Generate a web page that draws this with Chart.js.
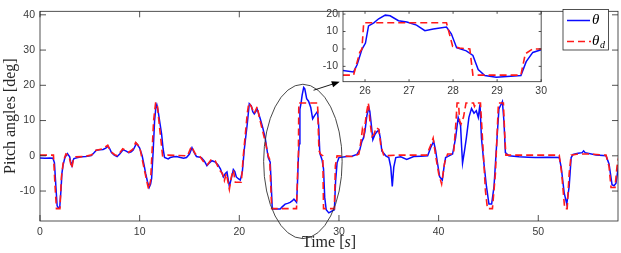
<!DOCTYPE html>
<html>
<head>
<meta charset="utf-8">
<script src="https://cdn.jsdelivr.net/npm/chart.js@4.4.0/dist/chart.umd.min.js"></script>
<style>
  html, body { margin: 0; padding: 0; background: #fff; }
  #wrap { position: relative; width: 621px; height: 253px; }
  #main { position: absolute; left: 0; top: 0; }
  #zoom { position: absolute; left: 318px; top: 0; }
</style>
</head>
<body>
<div id="wrap">
  <canvas id="main" width="621" height="253"></canvas>
  <canvas id="zoom" width="232" height="100"></canvas>
</div>
<script>
// measured pitch angle (theta)
const thetaTime = [0, 0.5, 1.0, 1.3, 1.45, 1.6, 1.72, 1.85, 1.98, 2.1, 2.2, 2.31, 2.5, 2.75, 2.98, 3.1, 3.2, 3.3, 3.4, 3.8,
  4.15, 4.6, 5.15, 5.4, 5.66, 6.0, 6.33, 6.6, 6.83, 7.0, 7.17, 7.45, 7.74, 8.0, 8.34, 8.6, 8.91, 9.15, 9.35, 9.68,
  9.85, 10.0, 10.25, 10.45, 10.6, 10.78, 10.95, 11.1, 11.2, 11.35, 11.5, 11.62, 11.72, 11.8, 11.9, 12.05, 12.2, 12.35, 12.5, 12.86,
  13.07, 13.4, 13.7, 14.1, 14.4, 14.7, 15.0, 15.25, 15.45, 15.7, 16.2, 16.5, 16.75, 17.0, 17.25, 17.6, 17.85, 18.1, 18.4, 18.6,
  18.76, 18.9, 19.0, 19.2, 19.4, 19.55, 19.7, 19.9, 20.1, 20.3, 20.5, 20.8, 21.0, 21.2, 21.35, 21.5, 21.8, 22.1, 22.35, 22.6,
  22.9, 23.1, 23.2, 23.3, 23.4, 24.1, 24.3, 24.6, 24.85, 25.1, 25.3, 25.48, 25.74, 25.82, 25.93, 26.01, 26.08, 26.2, 26.31, 26.46,
  26.57, 26.76, 26.95, 27.17, 27.36, 27.55, 27.85, 27.96, 28.08, 28.3, 28.45, 28.57, 28.72, 28.98, 29.54, 29.66, 29.81, 30.0, 30.8, 31.3,
  31.8, 32.1, 32.3, 32.45, 32.6, 32.8, 33.0, 33.1, 33.25, 33.4, 33.6, 33.8, 34.0, 34.15, 34.3, 34.7, 35.0, 35.2, 35.35, 35.5,
  35.7, 36.2, 36.8, 37.5, 38.2, 38.9, 39.2, 39.5, 39.7, 39.9, 40.1, 40.37, 40.55, 40.7, 41.04, 41.4, 41.7, 41.96, 42.2, 42.3,
  42.4, 42.6, 42.78, 43.04, 43.3, 43.55, 43.78, 43.98, 44.15, 44.3, 44.55, 44.8, 45.05, 45.32, 45.56, 45.8, 46.05, 46.4, 46.56, 46.7,
  47.05, 48.07, 49.0, 49.7, 51.0, 52.1, 52.3, 52.6, 52.86, 53.1, 53.3, 53.5, 54.0, 54.4, 54.55, 54.7, 55.8, 56.8, 57.1, 57.4,
  57.6, 57.8, 58.1];
const theta = [-0.6, -0.7, -0.6, -0.7, -2, -9, -14.2, -14.8, -14.6, -10, -5, -2.7, -0.5, 0.6, -0.3, -2, -2.8, -1.5, -0.8, -0.5,
  -0.3, -0.2, 0.1, 0.8, 1.6, 1.7, 1.8, 2.2, 2.7, 2.0, 0.9, 0.2, -0.2, 0.5, 1.7, 1.4, 0.9, 1.1, 1.6, 3.5,
  2.8, 2.2, 0, -2.7, -5, -7.3, -9, -8, -6.4, 1, 10, 13.5, 14.5, 13.5, 11.8, 9, 6.2, 2, -0.5, -0.9,
  -0.5, -0.3, -0.2, -0.5, -0.7, -0.5, 0.5, 2.3, 1, -0.2, -0.5, -1.5, -2.8, -2, -1.4, -1.8, -2.5, -3.7, -6, -5,
  -4.6, -7, -8.7, -6.4, -3.9, -4.5, -6, -6.5, -6.9, -4.6, 1.8, 9.1, 14.8, 14.2, 12.5, 11.9, 13.2, 10.5, 8, 5,
  -0.5, -1.8, -8, -14.6, -15.1, -15.1, -14.5, -13.7, -13.5, -13.2, -12.8, -12.3, -13.2, -9.1, -0.2, 3.4, 13.2, 15, 17.3, 19.4,
  19, 16.2, 15.5, 13.7, 10.5, 11.4, 12.6, 8.7, 0.7, -1.1, -3.7, -11.8, -15.3, -16.2, -15.3, -7.3, -2, -0.5, -0.2, -0.1,
  0.4, 1.8, 4.1, 5, 6.8, 11.4, 13.7, 12.5, 8.7, 4.6, 6, 6.8, 7.3, 5, 1.4, 0, -0.5, -3.2, -8.7, -3.2,
  -0.5, -0.3, -1, -0.2, -0.1, 0, 2.3, 4.1, 1.5, -2.3, -5.9, -6.9, -3, -0.5, 0, 0.5, 5, 10.9, 8.6, 3,
  -2.1, 1.5, 5, 10.9, 13.4, 12.1, 12.8, 10.9, 14.6, 5, -2.3, -8.7, -13.7, -13.7, -8.7, 2.3, 13.3, 15.4, 9.6, 0.9,
  0, -0.3, -0.4, -0.5, -0.4, -0.5, -3.2, -10.5, -13.7, -8.7, -0.5, 0.4, 0.7, 0.9, 1.4, 0.9, 0.2, 0, -2.3, -8.2,
  -8.5, -7.8, -1.8];

// desired pitch angle (theta_d)
const thetaDTime = [0, 1.35, 1.5, 1.65, 2.0, 2.15, 2.35, 2.6, 2.9, 3.1, 3.2, 3.35, 3.6, 4.5, 5.2, 5.5, 6.3, 6.8, 7.1, 7.5,
  7.8, 8.3, 8.9, 9.3, 9.6, 10.0, 10.4, 10.7, 10.9, 11.1, 11.4, 11.6, 11.75, 12.0, 12.3, 12.8, 14.8, 15.2, 15.6, 16.0,
  16.5, 16.8, 17.2, 17.6, 18.0, 18.3, 18.5, 18.7, 19.0, 19.2, 19.4, 19.6, 20.2, 20.4, 20.8, 20.95, 21.2, 21.5, 21.8, 22.0,
  22.6, 22.9, 23.05, 23.25, 25.74, 25.88, 25.93, 25.97, 27.85, 27.99, 28.15, 28.38, 28.45, 29.54, 29.64, 29.81, 31.5, 32.0, 32.2, 32.35,
  32.5, 32.75, 32.95, 33.1, 33.3, 33.5, 33.75, 34.0, 34.2, 34.5, 36.0, 38.8, 39.2, 39.45, 39.7, 40.0, 40.3, 40.6, 40.9, 41.5,
  41.75, 41.85, 42.0, 42.1, 42.25, 42.5, 42.75, 43.5, 43.6, 43.8, 44.2, 44.4, 44.7, 44.9, 45.4, 45.7, 46.0, 46.5, 46.65, 46.75,
  52.1, 52.35, 52.65, 52.9, 53.1, 53.3, 54.0, 55.0, 56.8, 57.1, 57.3, 57.7, 57.9, 58.1];
const thetaD = [0.2, 0.2, -8, -15, -15, -6, -1.5, 0.5, 0, -2.5, -3.5, -1, -0.3, -0.2, 0.3, 1.5, 2, 3, 1.2, 0.3,
  0, 2, 1, 1.8, 3.8, 2.5, -3, -7, -9.5, -7, 10, 15, 15, 8, 0, 0.2, 0, 2.7, 0.5, 0,
  -2, -2.5, -1, -1.5, -4, -5, -7, -5, -9.5, -6, -4, -7.5, -7.5, 0, 12, 15, 14, 12, 14, 11,
  4, 0, -1, -15, -15, -2, 0, 15, 15, 1.5, 0.5, 0, -15, -15, -2.8, 0, -0.2, 0.5, 4, 7.5,
  6, 12, 15, 10, 5.5, 6, 8, 7.5, 3, 0, 0.2, 0.2, 3, 5, 0, -5, -8, -2, 0.5, 0.5,
  10, 15, 15, 10, 9, 11, 15, 15, 14, 15, 15, 5, -10, -15, -15, -5, 15, 15, 5, 0.2,
  0.2, -5, -15, -15, -5, 0.2, 0.5, 0.5, 0.2, -3, -9, -9, -3, 0];

const xTicks = [0, 10, 20, 30, 40, 50];
const yTicks = [-10, 0, 10, 20, 30, 40];
const zoomXTicks = [26, 27, 28, 29, 30];
const zoomYTicks = [-10, 0, 10, 20];

// ellipse around the zoomed region and arrow to the inset (data units)
const ellipseCenter = { x: 26.38, y: -1.6 };
const ellipseRadius = { x: 3.94, y: 21.9 };
const arrowFrom = { x: 27.45, y: 18.6 };
const arrowTo = { x: 30.08, y: 21.0 };

const axisColor = '#262626';
const tickFont = { family: 'Liberation Sans, Arial, sans-serif', size: 10.5 };

function series() {
  return [
    {
      label: 'theta_d',
      data: thetaDTime.map((t, i) => ({ x: t, y: thetaD[i] })),
      borderColor: '#ff1a1a',
      borderWidth: 1.6,
      borderDash: [7, 4],
      pointRadius: 0,
      order: 1,
      clip: 0
    },
    {
      label: 'theta',
      data: thetaTime.map((t, i) => ({ x: t, y: theta[i] })),
      borderColor: '#0a0aff',
      borderWidth: 1.5,
      pointRadius: 0,
      order: 2,
      clip: 0
    }
  ];
}

// MATLAB style box with inward ticks on all four sides
const axesBox = {
  id: 'axesBox',
  beforeDraw(chart, args, opts) {
    if (!opts.fill) return;
    const a = chart.chartArea;
    chart.ctx.save();
    chart.ctx.fillStyle = '#fff';
    chart.ctx.fillRect(a.left, a.top, a.width, a.height);
    chart.ctx.restore();
  },
  afterDatasetsDraw(chart, args, opts) {
    const { ctx, chartArea: a, scales: { x, y } } = chart;
    const len = opts.tickLen;
    ctx.save();
    ctx.strokeStyle = axisColor;
    ctx.lineWidth = 0.8;
    ctx.beginPath();
    x.ticks.forEach(t => {
      const px = x.getPixelForValue(t.value);
      ctx.moveTo(px, a.bottom); ctx.lineTo(px, a.bottom - len);
      ctx.moveTo(px, a.top); ctx.lineTo(px, a.top + len);
    });
    y.ticks.forEach(t => {
      const py = y.getPixelForValue(t.value);
      ctx.moveTo(a.left, py); ctx.lineTo(a.left + len, py);
      ctx.moveTo(a.right, py); ctx.lineTo(a.right - len, py);
    });
    ctx.stroke();
    ctx.strokeRect(a.left, a.top, a.width, a.height);
    ctx.restore();
  }
};

const extras = {
  id: 'extras',
  afterDatasetsDraw(chart) {
    const { ctx, scales: { x, y } } = chart;
    ctx.save();
    ctx.strokeStyle = '#333';
    ctx.lineWidth = 0.9;
    const cx = x.getPixelForValue(ellipseCenter.x);
    const cy = y.getPixelForValue(ellipseCenter.y);
    const rx = x.getPixelForValue(ellipseCenter.x + ellipseRadius.x) - cx;
    const ry = cy - y.getPixelForValue(ellipseCenter.y + ellipseRadius.y);
    ctx.beginPath();
    ctx.ellipse(cx, cy, rx, ry, 0, 0, Math.PI * 2);
    ctx.stroke();

    const x0 = x.getPixelForValue(arrowFrom.x), y0 = y.getPixelForValue(arrowFrom.y);
    const x1 = x.getPixelForValue(arrowTo.x), y1 = y.getPixelForValue(arrowTo.y);
    const ang = Math.atan2(y1 - y0, x1 - x0);
    ctx.strokeStyle = '#000';
    ctx.beginPath();
    ctx.moveTo(x0, y0);
    ctx.lineTo(x1 - 6 * Math.cos(ang), y1 - 6 * Math.sin(ang));
    ctx.stroke();
    ctx.fillStyle = '#000';
    ctx.beginPath();
    ctx.moveTo(x1, y1);
    ctx.lineTo(x1 - 8 * Math.cos(ang) + 3.2 * Math.sin(ang), y1 - 8 * Math.sin(ang) - 3.2 * Math.cos(ang));
    ctx.lineTo(x1 - 8 * Math.cos(ang) - 3.2 * Math.sin(ang), y1 - 8 * Math.sin(ang) + 3.2 * Math.cos(ang));
    ctx.closePath();
    ctx.fill();
    ctx.restore();
  },
  afterDraw(chart) {
    const { ctx, chartArea: a } = chart;
    ctx.save();
    ctx.fillStyle = axisColor;
    // y axis title
    ctx.font = '16px "Liberation Serif", serif';
    ctx.textAlign = 'center';
    ctx.textBaseline = 'alphabetic';
    ctx.save();
    ctx.translate(15, (a.top + a.bottom) / 2);
    ctx.rotate(-Math.PI / 2);
    ctx.fillText('Pitch angles [deg]', 0, 0);
    ctx.restore();

    // x axis title, with italic s
    const parts = [['Time [', '16px "Liberation Serif", serif'], ['s', 'italic 16px "Liberation Serif", serif'], [']', '16px "Liberation Serif", serif']];
    let total = 0;
    parts.forEach(p => { ctx.font = p[1]; total += ctx.measureText(p[0]).width; });
    let px = (a.left + a.right) / 2 - total / 2;
    ctx.textAlign = 'left';
    parts.forEach(p => { ctx.font = p[1]; ctx.fillText(p[0], px, 247); px += ctx.measureText(p[0]).width; });

    // legend
    const lx = 563, ly = 9.5, lw = 45.5, lh = 40.5;
    ctx.fillStyle = '#fff';
    ctx.fillRect(lx, ly, lw, lh);
    ctx.strokeStyle = axisColor;
    ctx.lineWidth = 0.8;
    ctx.strokeRect(lx, ly, lw, lh);
    ctx.lineWidth = 1.5;
    ctx.strokeStyle = '#0a0aff';
    ctx.beginPath(); ctx.moveTo(567, 20.5); ctx.lineTo(590, 20.5); ctx.stroke();
    ctx.strokeStyle = '#ff1a1a';
    ctx.setLineDash([7, 4]);
    ctx.beginPath(); ctx.moveTo(567, 41.5); ctx.lineTo(591, 41.5); ctx.stroke();
    ctx.setLineDash([]);
    ctx.fillStyle = '#000';
    ctx.textBaseline = 'middle';
    ctx.font = 'italic 15px "Liberation Serif", serif';
    ctx.fillText('θ', 592, 20.5);
    ctx.fillText('θ', 592, 41);
    ctx.font = 'italic 10px "Liberation Serif", serif';
    ctx.fillText('d', 600, 45);
    ctx.restore();
  }
};

function linearAxis(min, max, ticks, fixed, horizontal) {
  return {
    type: 'linear',
    min: min,
    max: max,
    afterBuildTicks: s => { s.ticks = ticks.map(v => ({ value: v })); },
    afterFit: s => { if (horizontal) s.height = fixed; else s.width = fixed; },
    grid: { display: false, drawTicks: false },
    border: { display: false },
    ticks: {
      color: '#3a3a3a',
      font: tickFont,
      padding: horizontal ? 5 : 5,
      autoSkip: false,
      maxRotation: 0,
      callback: v => String(v)
    }
  };
}

new Chart(document.getElementById('main').getContext('2d'), {
  type: 'line',
  data: { datasets: series() },
  options: {
    responsive: false,
    animation: false,
    layout: { padding: { top: 3, right: 3, left: 0, bottom: 0 } },
    plugins: { legend: { display: false }, tooltip: { enabled: false }, axesBox: { tickLen: 6 } },
    scales: {
      x: linearAxis(0, 58, xTicks, 32, true),
      y: linearAxis(-18.5, 41, yTicks, 40, false)
    }
  },
  plugins: [axesBox, extras]
});

const zx = linearAxis(25.5, 30, zoomXTicks, 18.3, true);
zx.ticks.padding = 3;
const zy = linearAxis(-18.8, 21.6, zoomYTicks, 25, false);
zy.ticks.padding = 5;
new Chart(document.getElementById('zoom').getContext('2d'), {
  type: 'line',
  data: { datasets: series() },
  options: {
    responsive: false,
    animation: false,
    layout: { padding: { top: 6, right: 7, left: 0, bottom: 0 } },
    plugins: { legend: { display: false }, tooltip: { enabled: false }, axesBox: { tickLen: 2.5, fill: true } },
    scales: { x: zx, y: zy }
  },
  plugins: [axesBox]
});
</script>
</body>
</html>
